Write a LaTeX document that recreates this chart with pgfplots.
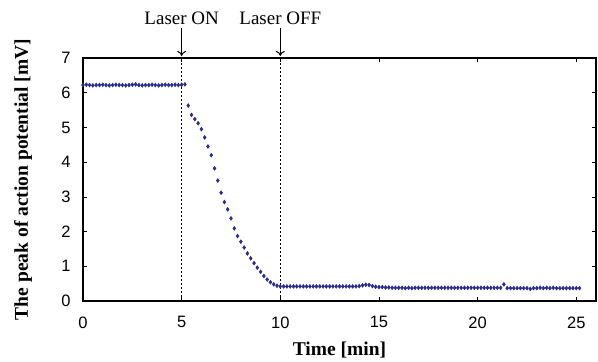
\documentclass[border=0pt]{standalone}
\usepackage{fontspec}
\setmainfont{Liberation Serif}
\setsansfont{Liberation Sans}
\usepackage{pgfplots}
\pgfplotsset{compat=1.18}
\usetikzlibrary{arrows.meta}
\definecolor{navy}{RGB}{40,42,140}
\begin{document}
\begin{tikzpicture}
\begin{axis}[
  name=main,
  scale only axis, width=513pt, height=243pt,
  xmin=0, xmax=26, ymin=0, ymax=7,
  xtick={0,5,10,15,20,25}, ytick={0,1,2,3,4,5,6,7},
  tick align=inside, major tick length=4pt,
  tick style={black, line width=0.6pt},
  axis line style={line width=1.5pt},
  ticklabel style={font=\sffamily\fontsize{16.5}{16.5}\selectfont},
  /pgf/number format/assume math mode=true,
  yticklabel style={xshift=-9pt},
  xticklabel style={yshift=-12pt},
  xlabel={Time [min]},
  ylabel={The peak of action potential [mV]},
  label style={font=\fontsize{19.5}{21}\selectfont\bfseries},
  xlabel style={at={(axis description cs:0.5,-0.202)}, anchor=center},
  ylabel style={at={(axis description cs:-0.117,0.5)}, anchor=center},
  clip=false,
]
\addplot[black, dashed, line width=0.5pt, dash pattern=on 2pt off 2pt] coordinates {(5,0) (5,7)};
\addplot[black, dashed, line width=0.5pt, dash pattern=on 2pt off 2pt] coordinates {(10,0) (10,7)};
\addplot[only marks, mark=diamond*, mark size=2pt, color=navy] coordinates {
(0,6.22)(0.167,6.23)(0.333,6.22)(0.5,6.21)(0.667,6.22)(0.833,6.22)(1,6.23)(1.167,6.22)
(1.333,6.21)(1.5,6.22)(1.667,6.23)(1.833,6.22)(2,6.22)(2.167,6.21)(2.333,6.22)(2.5,6.23)
(2.667,6.24)(2.833,6.22)(3,6.21)(3.167,6.22)(3.333,6.22)(3.5,6.23)(3.667,6.22)(3.833,6.21)
(4,6.22)(4.167,6.23)(4.333,6.22)(4.5,6.22)(4.667,6.23)(4.833,6.22)(5,6.23)(5.167,6.24)
(5.333,5.63)(5.5,5.36)(5.667,5.24)(5.833,5.12)(6,4.95)(6.167,4.71)(6.333,4.45)(6.5,4.20)
(6.667,3.82)(6.833,3.47)(7,3.12)(7.167,2.85)(7.333,2.64)(7.5,2.38)(7.667,2.09)(7.833,1.87)
(8,1.71)(8.167,1.54)(8.333,1.37)(8.5,1.23)(8.667,1.09)(8.833,0.96)(9,0.84)(9.167,0.72)
(9.333,0.62)(9.5,0.54)(9.667,0.48)(9.833,0.44)
(10,0.42)(10.167,0.42)(10.333,0.42)(10.5,0.42)(10.667,0.42)(10.833,0.42)(11,0.42)(11.167,0.42)
(11.333,0.42)(11.5,0.42)(11.667,0.42)(11.833,0.42)(12,0.42)(12.167,0.42)(12.333,0.42)(12.5,0.42)
(12.667,0.42)(12.833,0.42)(13,0.42)(13.167,0.42)(13.333,0.42)(13.5,0.42)(13.667,0.42)(13.833,0.42)
(14,0.43)(14.167,0.45)(14.333,0.47)(14.5,0.46)(14.667,0.43)(14.833,0.41)(15,0.40)(15.167,0.40)
(15.333,0.39)(15.5,0.39)(15.667,0.38)(15.833,0.38)(16,0.38)(16.167,0.38)(16.333,0.37)(16.5,0.38)
(16.667,0.37)(16.833,0.38)(17,0.38)(17.167,0.38)(17.333,0.38)(17.5,0.38)(17.667,0.38)(17.833,0.38)
(18,0.38)(18.167,0.38)(18.333,0.38)(18.5,0.38)(18.667,0.38)(18.833,0.38)(19,0.38)(19.167,0.38)
(19.333,0.38)(19.5,0.38)(19.667,0.38)(19.833,0.38)(20,0.38)(20.167,0.38)(20.333,0.38)(20.5,0.38)
(20.667,0.38)(20.833,0.38)(21,0.38)(21.167,0.38)(21.333,0.48)(21.5,0.37)(21.667,0.37)(21.833,0.37)
(22,0.37)(22.167,0.37)(22.333,0.37)(22.5,0.37)(22.667,0.35)(22.833,0.37)(23,0.37)(23.167,0.38)
(23.333,0.37)(23.5,0.38)(23.667,0.37)(23.833,0.38)(24,0.37)(24.167,0.37)(24.333,0.37)(24.5,0.37)
(24.667,0.37)(24.833,0.37)(25,0.37)(25.167,0.37)
};
\node[font=\fontsize{19}{21}\selectfont] at (axis cs:5,8.13) {Laser ON};
\node[font=\fontsize{19}{21}\selectfont] at (axis cs:10,8.13) {Laser OFF};
\draw[line width=1pt, -{To[length=5pt,width=9pt]}] (axis cs:5,7.87) -- (axis cs:5,7.06);
\draw[line width=1pt, -{To[length=5pt,width=9pt]}] (axis cs:10,7.87) -- (axis cs:10,7.06);
\end{axis}
\path (main.south west) ++(-83pt,-61pt);
\path (main.north east) ++(2pt,58pt);
\end{tikzpicture}
\end{document}
